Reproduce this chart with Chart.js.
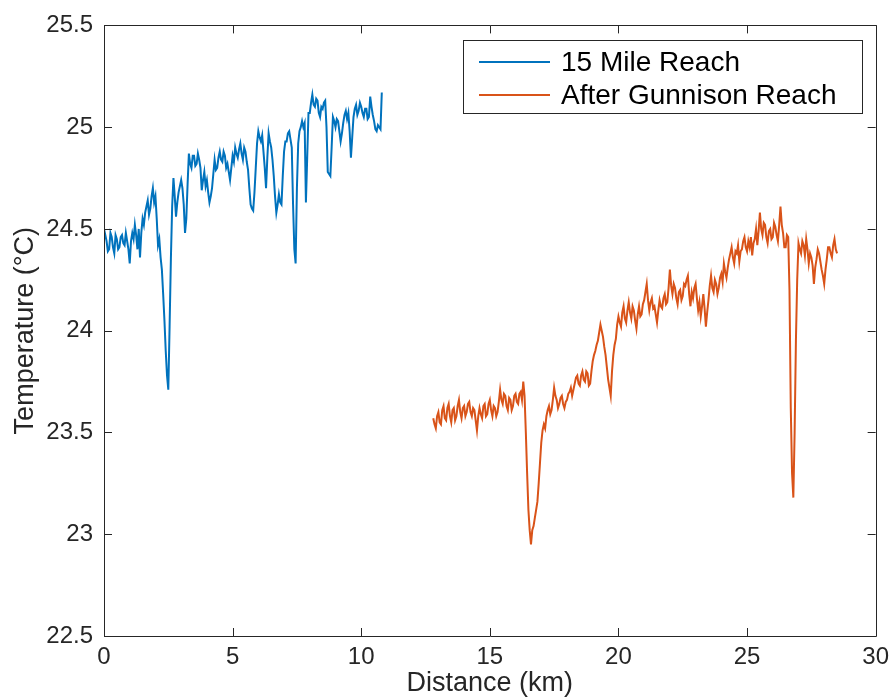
<!DOCTYPE html>
<html>
<head>
<meta charset="utf-8">
<script src="https://cdn.jsdelivr.net/npm/chart.js@4.4.1/dist/chart.umd.min.js"></script>
<style>
  html, body { margin: 0; padding: 0; background: #ffffff; }
  #wrap { width: 896px; height: 700px; position: relative; }
</style>
</head>
<body>
<div id="wrap"><canvas id="c" width="896" height="700"></canvas></div>
<script>
// Water temperature along two river reaches, sampled every 0.05 km
const sampleStepKm = 0.05;

const mileReachStartKm = 0.0;
const mileReachTempC = [
  24.50, 24.47, 24.44, 24.39, 24.40, 24.48, 24.46, 24.41, 24.38, 24.47,
  24.45, 24.40, 24.41, 24.46, 24.47, 24.43, 24.42, 24.48, 24.44, 24.40,
  24.33, 24.44, 24.48, 24.45, 24.52, 24.47, 24.40, 24.50, 24.36, 24.48,
  24.55, 24.52, 24.58, 24.61, 24.64, 24.57, 24.60, 24.66, 24.70, 24.63,
  24.66, 24.55, 24.42, 24.45, 24.36, 24.30, 24.18, 24.05, 23.90, 23.78,
  23.71, 24.02, 24.35, 24.61, 24.75, 24.66, 24.56, 24.63, 24.68, 24.71,
  24.74, 24.70, 24.62, 24.48, 24.55, 24.72, 24.87, 24.82, 24.80, 24.86,
  24.86, 24.81, 24.82, 24.87, 24.84, 24.80, 24.69, 24.74, 24.78, 24.71,
  24.74, 24.68, 24.63, 24.66, 24.70, 24.77, 24.84, 24.79, 24.80, 24.85,
  24.88, 24.84, 24.83, 24.88, 24.86, 24.80, 24.82, 24.78, 24.74, 24.80,
  24.86, 24.83, 24.90, 24.87, 24.85, 24.89, 24.92, 24.87, 24.84, 24.90,
  24.88, 24.83, 24.79, 24.70, 24.62, 24.60, 24.59, 24.68, 24.80, 24.92,
  24.98, 24.95, 24.93, 24.96, 24.88, 24.80, 24.70, 24.85, 24.97, 24.93,
  24.90, 24.84, 24.76, 24.66, 24.58, 24.62, 24.67, 24.63, 24.62, 24.76,
  24.88, 24.93, 24.93, 24.97, 24.98, 24.94, 24.90, 24.62, 24.40, 24.33,
  24.70, 24.92, 24.98, 25.00, 25.03, 25.00, 25.02, 24.63, 24.85, 25.07,
  25.07, 25.12, 25.16, 25.11, 25.10, 25.14, 25.13, 25.07, 25.05, 25.10,
  25.09, 25.12, 25.13, 25.00, 24.78, 24.77, 24.76, 24.90, 25.05, 25.03,
  25.00, 25.04, 25.03, 24.98, 24.93, 24.97, 25.02, 25.06, 25.08, 25.04,
  25.07, 24.98, 24.85, 24.95, 25.05, 25.09, 25.11, 25.06, 25.08, 25.12,
  25.10, 25.07, 25.05, 25.09, 25.09, 25.04, 25.05, 25.15, 25.10, 25.06,
  25.03, 24.99, 24.98, 25.01, 25.00, 24.99, 25.17
];

const gunnisonStartKm = 12.8;
const gunnisonTempC = [
  23.57, 23.54, 23.52, 23.58,
  23.60, 23.55, 23.54, 23.61, 23.63, 23.57, 23.56, 23.62, 23.64, 23.58,
  23.55, 23.61, 23.62, 23.56, 23.58, 23.63, 23.66, 23.60, 23.57, 23.62,
  23.63, 23.58, 23.60, 23.64, 23.65, 23.60, 23.58, 23.62, 23.61, 23.56,
  23.51, 23.58, 23.62, 23.59, 23.57, 23.63, 23.64, 23.58, 23.59, 23.64,
  23.66, 23.61, 23.58, 23.63, 23.62, 23.58, 23.60, 23.65, 23.71, 23.66,
  23.64, 23.69, 23.68, 23.63, 23.61, 23.67, 23.66, 23.61, 23.63, 23.68,
  23.69, 23.65, 23.64, 23.69, 23.70, 23.66, 23.75, 23.68, 23.50, 23.30,
  23.12, 23.02, 22.95, 23.02, 23.04, 23.08, 23.12, 23.16, 23.25, 23.35,
  23.45, 23.51, 23.54, 23.52, 23.58, 23.61, 23.63, 23.59, 23.61, 23.66,
  23.72, 23.68, 23.66, 23.62, 23.64, 23.67, 23.68, 23.64, 23.62, 23.65,
  23.66, 23.69, 23.70, 23.72, 23.68, 23.71, 23.74, 23.77, 23.78, 23.74,
  23.73, 23.78, 23.80, 23.76, 23.75, 23.80, 23.79, 23.73, 23.74, 23.80,
  23.85, 23.88, 23.90, 23.93, 23.95, 23.99, 24.03, 24.00, 23.97, 23.92,
  23.88, 23.82, 23.76, 23.72, 23.68, 23.80, 23.88, 23.93, 23.96, 24.03,
  24.07, 24.04, 24.02, 24.09, 24.12, 24.06, 24.04, 24.10, 24.14, 24.09,
  24.06, 24.12, 24.10, 24.05, 24.01, 24.08, 24.12, 24.07, 24.08, 24.13,
  24.15, 24.19, 24.23, 24.15, 24.10, 24.14, 24.16, 24.11, 24.12, 24.08,
  24.04, 24.10, 24.15, 24.12, 24.11, 24.16, 24.18, 24.13, 24.14, 24.21,
  24.30, 24.22, 24.18, 24.23, 24.21, 24.16, 24.13, 24.19, 24.20, 24.15,
  24.17, 24.23, 24.22, 24.25, 24.27, 24.18, 24.12, 24.19, 24.16, 24.21,
  24.23, 24.16, 24.10, 24.14, 24.07, 24.12, 24.18, 24.11, 24.02, 24.09,
  24.15, 24.22, 24.27, 24.21, 24.19, 24.25, 24.23, 24.18, 24.21, 24.26,
  24.28, 24.24, 24.33, 24.29, 24.26, 24.31, 24.35, 24.38, 24.41, 24.36,
  24.33, 24.39, 24.38, 24.42, 24.34, 24.39, 24.40, 24.44, 24.46, 24.41,
  24.39, 24.44, 24.41, 24.46, 24.37, 24.43, 24.45, 24.50, 24.42, 24.49,
  24.58, 24.50, 24.47, 24.53, 24.52, 24.46, 24.43, 24.49, 24.50, 24.45,
  24.46, 24.53, 24.51, 24.47, 24.44, 24.52, 24.61, 24.52, 24.48, 24.41,
  24.41, 24.47, 24.46, 24.20, 23.62, 23.30, 23.18, 23.50, 23.95, 24.25,
  24.43, 24.40, 24.38, 24.44, 24.42, 24.37, 24.45, 24.40, 24.33, 24.38,
  24.36, 24.32, 24.23, 24.31, 24.35, 24.40, 24.38, 24.34, 24.30, 24.27,
  24.23, 24.30, 24.35, 24.41, 24.41, 24.38, 24.36, 24.42, 24.45, 24.40,
  24.38
];

const seriesNames = ['15 Mile Reach', 'After Gunnison Reach'];
const xTicksKm = [0, 5, 10, 15, 20, 25, 30];
const yTicksC = [22.5, 23, 23.5, 24, 24.5, 25, 25.5];

const BLUE = '#0072BD';
const ORANGE = '#D95319';
const AXIS = '#262626';
const FONT = '"Liberation Sans", Arial, Helvetica, sans-serif';

function toPoints(startKm, temps) {
  return temps.map((t, i) => ({ x: +(startKm + i * sampleStepKm).toFixed(2), y: t }));
}

// Box around the plot area with inward-pointing ticks on all four sides
const boxTicks = {
  id: 'boxTicks',
  afterDatasetsDraw(chart) {
    const { ctx, chartArea: a, scales: { x, y } } = chart;
    const len = 8;
    ctx.save();
    ctx.strokeStyle = AXIS;
    ctx.lineWidth = 1;
    ctx.beginPath();
    ctx.rect(Math.round(a.left) + 0.5, Math.round(a.top) + 0.5,
             Math.round(a.right - a.left), Math.round(a.bottom - a.top));
    x.ticks.forEach(t => {
      const px = Math.round(x.getPixelForValue(t.value)) + 0.5;
      ctx.moveTo(px, a.bottom); ctx.lineTo(px, a.bottom - len);
      ctx.moveTo(px, a.top); ctx.lineTo(px, a.top + len);
    });
    y.ticks.forEach(t => {
      const py = Math.round(y.getPixelForValue(t.value)) + 0.5;
      ctx.moveTo(a.left, py); ctx.lineTo(a.left + len, py);
      ctx.moveTo(a.right, py); ctx.lineTo(a.right - len, py);
    });
    ctx.stroke();
    ctx.restore();
  }
};

// Legend box in the upper right corner of the plot
const insetLegend = {
  id: 'insetLegend',
  afterDraw(chart) {
    const { ctx } = chart;
    const left = 463, top = 40, right = 862, bottom = 113;
    const rows = [62, 95];
    ctx.save();
    ctx.fillStyle = '#ffffff';
    ctx.fillRect(left, top, right - left, bottom - top);
    ctx.strokeStyle = AXIS;
    ctx.lineWidth = 1;
    ctx.strokeRect(left + 0.5, top + 0.5, right - left, bottom - top);
    ctx.font = '28px ' + FONT;
    ctx.textBaseline = 'middle';
    ctx.textAlign = 'left';
    chart.data.datasets.forEach((ds, i) => {
      const yy = rows[i];
      ctx.strokeStyle = ds.borderColor;
      ctx.lineWidth = 2;
      ctx.beginPath();
      ctx.moveTo(479, yy); ctx.lineTo(550, yy);
      ctx.stroke();
      ctx.fillStyle = '#000000';
      ctx.fillText(ds.label, 561, yy + 1);
    });
    ctx.restore();
  }
};

new Chart(document.getElementById('c'), {
  type: 'line',
  data: {
    datasets: [
      { label: seriesNames[0], data: toPoints(mileReachStartKm, mileReachTempC),
        borderColor: BLUE, borderWidth: 2, pointRadius: 0, tension: 0, fill: false },
      { label: seriesNames[1], data: toPoints(gunnisonStartKm, gunnisonTempC),
        borderColor: ORANGE, borderWidth: 2, pointRadius: 0, tension: 0, fill: false }
    ]
  },
  options: {
    responsive: false,
    animation: false,
    layout: { padding: { top: 24, right: 17, left: 0, bottom: 0 } },
    plugins: { legend: { display: false }, tooltip: { enabled: false } },
    scales: {
      x: {
        type: 'linear', min: 0, max: 30,
        afterBuildTicks: s => { s.ticks = xTicksKm.map(v => ({ value: v })); },
        afterFit: s => { s.height = 64; },
        grid: { display: false, drawTicks: false },
        border: { display: false },
        ticks: { color: AXIS, font: { family: FONT, size: 24 }, padding: 7, maxRotation: 0,
                 callback: v => String(v) },
        title: { display: true, text: 'Distance (km)', color: AXIS,
                 font: { family: FONT, size: 27 }, padding: { top: 0, bottom: 0 } }
      },
      y: {
        type: 'linear', min: 22.5, max: 25.5,
        afterBuildTicks: s => { s.ticks = yTicksC.map(v => ({ value: v })); },
        afterFit: s => { s.width = 104; },
        grid: { display: false, drawTicks: false },
        border: { display: false },
        ticks: { color: AXIS, font: { family: FONT, size: 24 }, padding: 11,
                 callback: v => String(v) },
        title: { display: true, text: 'Temperature (°C)', color: AXIS,
                 font: { family: FONT, size: 27 }, padding: { top: 9, bottom: 0 } }
      }
    }
  },
  plugins: [boxTicks, insetLegend]
});
</script>
</body>
</html>
